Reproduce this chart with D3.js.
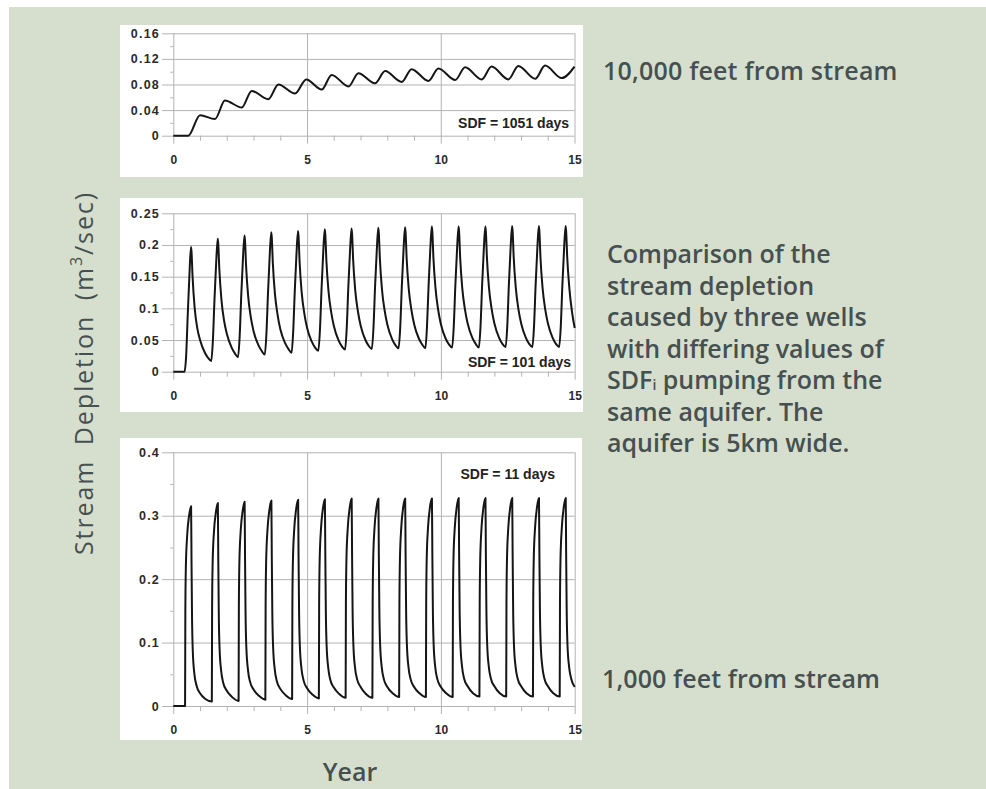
<!DOCTYPE html>
<html>
<head>
<meta charset="utf-8">
<script src="https://cdn.jsdelivr.net/npm/d3@7"></script>
<style>
  body { margin: 0; background: #fff; }
  svg { display: block; }
  .tick line { stroke: #b3b3b3; stroke-width: 1; }
  .tick text { fill: #2a2a2a; font-family: "Liberation Sans", Arial, sans-serif; font-weight: bold; }
  .note { fill: #475050; font-family: "Open Sans", "Noto Sans", sans-serif; font-size: 25px; font-weight: 600; }
</style>
</head>
<body>
<svg id="chart" width="986" height="789"></svg>
<script>
// well 10,000 ft from stream (SDF = 1051 days): turning points of the curve
var farYears     = [0, 0.56, 1.0, 1.56, 1.93, 2.56, 2.93, 3.55, 3.93, 4.55, 4.97, 5.55, 5.92, 6.55, 6.92, 7.54, 7.92, 8.54, 8.91, 9.54, 9.91, 10.54, 10.91, 11.53, 11.9, 12.53, 12.9, 13.53, 13.9, 14.52, 15];
var farDepletion = [0, 0, 0.032, 0.026, 0.055, 0.044, 0.070, 0.057, 0.080, 0.066, 0.088, 0.072, 0.095, 0.077, 0.0975, 0.082, 0.101, 0.084, 0.104, 0.0855, 0.105, 0.087, 0.107, 0.088, 0.108, 0.088, 0.109, 0.089, 0.1095, 0.090, 0.108];

// SDF = 101 days: one row per pumping year, sampled at these times into the year
var midOffsets = [0.42, 0.48, 0.54, 0.60, 0.66, 0.68, 0.72, 0.80, 0.90, 1.0, 1.18, 1.3];
var midCycles = [
  [0, 0.025, 0.09, 0.15, 0.197, 0.19, 0.15, 0.10, 0.068, 0.05, 0.03, 0.022],
  [0.017, 0.05, 0.115, 0.17, 0.210, 0.202, 0.162, 0.113, 0.080, 0.060, 0.038, 0.029],
  [0.023, 0.056, 0.121, 0.176, 0.215, 0.207, 0.167, 0.118, 0.085, 0.064, 0.042, 0.033],
  [0.027, 0.060, 0.125, 0.181, 0.220, 0.212, 0.171, 0.122, 0.089, 0.067, 0.045, 0.036],
  [0.030, 0.063, 0.128, 0.183, 0.222, 0.214, 0.173, 0.124, 0.091, 0.069, 0.047, 0.038],
  [0.033, 0.066, 0.131, 0.186, 0.225, 0.217, 0.176, 0.127, 0.094, 0.072, 0.049, 0.040],
  [0.035, 0.068, 0.133, 0.187, 0.226, 0.218, 0.177, 0.128, 0.095, 0.073, 0.050, 0.041],
  [0.036, 0.069, 0.134, 0.188, 0.227, 0.219, 0.178, 0.129, 0.096, 0.074, 0.051, 0.042],
  [0.037, 0.070, 0.135, 0.189, 0.228, 0.220, 0.179, 0.130, 0.097, 0.075, 0.052, 0.043],
  [0.037, 0.071, 0.136, 0.190, 0.229, 0.221, 0.180, 0.131, 0.097, 0.075, 0.052, 0.043],
  [0.038, 0.071, 0.136, 0.190, 0.229, 0.221, 0.180, 0.131, 0.098, 0.076, 0.053, 0.044],
  [0.038, 0.071, 0.136, 0.190, 0.229, 0.221, 0.180, 0.131, 0.098, 0.076, 0.053, 0.044],
  [0.039, 0.072, 0.137, 0.191, 0.230, 0.222, 0.181, 0.132, 0.098, 0.076, 0.053, 0.044],
  [0.039, 0.072, 0.137, 0.191, 0.230, 0.222, 0.181, 0.132, 0.098, 0.076, 0.053, 0.044],
  [0.039, 0.072, 0.137, 0.191, 0.230, 0.222, 0.181, 0.132, 0.094, 0.069]
];

// well 1,000 ft from stream (SDF = 11 days)
var nearOffsets = [0.44, 0.45, 0.47, 0.52, 0.59, 0.665, 0.68, 0.70, 0.73, 0.79, 0.87, 1.0, 1.2];
var nearCycles = [
  [0, 0.15, 0.22, 0.27, 0.30, 0.315, 0.23, 0.14, 0.085, 0.05, 0.032, 0.02, 0.011],
  [0.007, 0.155, 0.225, 0.275, 0.305, 0.320, 0.235, 0.145, 0.09, 0.055, 0.036, 0.024, 0.014],
  [0.008, 0.157, 0.227, 0.277, 0.307, 0.322, 0.237, 0.147, 0.092, 0.057, 0.038, 0.026, 0.016],
  [0.010, 0.158, 0.228, 0.278, 0.309, 0.324, 0.238, 0.148, 0.093, 0.058, 0.039, 0.027, 0.017],
  [0.011, 0.159, 0.229, 0.279, 0.310, 0.325, 0.239, 0.149, 0.094, 0.059, 0.040, 0.028, 0.018],
  [0.012, 0.160, 0.230, 0.280, 0.311, 0.326, 0.240, 0.150, 0.095, 0.060, 0.041, 0.029, 0.019],
  [0.013, 0.160, 0.231, 0.281, 0.312, 0.327, 0.241, 0.151, 0.096, 0.061, 0.042, 0.030, 0.019],
  [0.013, 0.161, 0.231, 0.281, 0.312, 0.327, 0.241, 0.151, 0.096, 0.061, 0.042, 0.030, 0.020],
  [0.014, 0.161, 0.232, 0.282, 0.313, 0.327, 0.241, 0.151, 0.096, 0.061, 0.042, 0.030, 0.020],
  [0.014, 0.161, 0.232, 0.282, 0.313, 0.327, 0.241, 0.151, 0.096, 0.061, 0.042, 0.030, 0.020],
  [0.014, 0.162, 0.232, 0.282, 0.313, 0.328, 0.242, 0.152, 0.097, 0.062, 0.043, 0.031, 0.020],
  [0.015, 0.162, 0.232, 0.282, 0.313, 0.328, 0.242, 0.152, 0.097, 0.062, 0.043, 0.031, 0.020],
  [0.015, 0.162, 0.232, 0.282, 0.313, 0.328, 0.242, 0.152, 0.097, 0.062, 0.043, 0.031, 0.020],
  [0.015, 0.162, 0.232, 0.282, 0.313, 0.328, 0.242, 0.152, 0.097, 0.062, 0.043, 0.031, 0.020],
  [0.015, 0.162, 0.232, 0.282, 0.313, 0.328, 0.242, 0.152, 0.097, 0.062, 0.043, 0.030]
];

var majorYears = [0, 5, 10, 15];
var minorYears = [1, 2, 3, 4, 6, 7, 8, 9, 11, 12, 13, 14];
var farTicks = [0, 0.04, 0.08, 0.12, 0.16], farMinor = [0.02, 0.06, 0.1, 0.14];
var midTicks = [0, 0.05, 0.1, 0.15, 0.2, 0.25], midMinor = [0.025, 0.075, 0.125, 0.175, 0.225];
var nearTicks = [0, 0.1, 0.2, 0.3, 0.4], nearMinor = [0.05, 0.15, 0.25, 0.35];
var sdfLabels = ["SDF = 1051 days", "SDF = 101 days", "SDF = 11 days"];

var topNote = "10,000 feet from stream";
var bottomNote = "1,000 feet from stream";
var caption = ["Comparison of the", "stream depletion", "caused by three wells", "with differing values of", "SDF|i| pumping from the", "same aquifer. The", "aquifer is 5km wide."];

function cyclePoints(offsets, cycles) {
  var pts = [[0, 0]];
  cycles.forEach(function(row, k) {
    row.forEach(function(v, j) { pts.push([k + offsets[j], v]); });
  });
  return pts;
}

var panels = [
  { box: [120, 25, 463, 152], xr: [173.3, 574.5], yr: [135.7, 33.3], max: 0.16, ticks: farTicks, minor: farMinor,
    pts: d3.zip(farYears, farDepletion), label: sdfLabels[0], lx: 569, ly: 128 },
  { box: [120, 198, 463, 214], xr: [173.3, 574.7], yr: [371.7, 213.3], max: 0.25, ticks: midTicks, minor: midMinor,
    pts: cyclePoints(midOffsets, midCycles), label: sdfLabels[1], lx: 571, ly: 367 },
  { box: [120, 438, 462, 302], xr: [173.3, 574.7], yr: [706, 452.3], max: 0.4, ticks: nearTicks, minor: nearMinor,
    pts: cyclePoints(nearOffsets, nearCycles), label: sdfLabels[2], lx: 555, ly: 478.5 }
];

var svg = d3.select("#chart");
svg.append("rect").attr("x", 9).attr("y", 7).attr("width", 977).attr("height", 782).attr("fill", "#d6dfcd");

var fmt = function(d) { return d === 0 ? "0" : String(d); };

panels.forEach(function(p) {
  var g = svg.append("g");
  g.append("rect")
    .attr("x", p.box[0]).attr("y", p.box[1]).attr("width", p.box[2]).attr("height", p.box[3])
    .attr("fill", "#fff");

  var x = d3.scaleLinear().domain([0, 15]).range(p.xr);
  var y = d3.scaleLinear().domain([0, p.max]).range(p.yr);

  // horizontal grid lines with value labels
  var gy = g.append("g").attr("transform", "translate(162,0)")
    .call(d3.axisLeft(y).tickValues(p.ticks).tickSize(-(p.xr[1] - 162)).tickPadding(2).tickFormat(fmt));
  gy.select(".domain").remove();
  gy.selectAll("text").style("font-size", "12.5px").style("letter-spacing", "1.2px");

  // vertical grid lines every 5 years with year labels
  var gx = g.append("g").attr("transform", "translate(0," + p.yr[1] + ")")
    .call(d3.axisBottom(x).tickValues(majorYears).tickSize(p.yr[0] - p.yr[1] + 8).tickPadding(11.5));
  gx.select(".domain").remove();
  gx.selectAll("text").style("font-size", "12px");

  // minor ticks
  var mx = g.append("g").attr("transform", "translate(0," + p.yr[0] + ")")
    .call(d3.axisBottom(x).tickValues(minorYears).tickSize(5).tickFormat(""));
  mx.select(".domain").remove();
  var my = g.append("g").attr("transform", "translate(" + p.xr[0] + ",0)")
    .call(d3.axisLeft(y).tickValues(p.minor).tickSize(3).tickFormat(""));
  my.select(".domain").remove();

  g.append("path")
    .datum(p.pts)
    .attr("fill", "none")
    .attr("stroke", "#151515")
    .attr("stroke-width", 2)
    .attr("stroke-linejoin", "round")
    .attr("d", d3.line()
      .x(function(d) { return x(d[0]); })
      .y(function(d) { return y(d[1]); })
      .curve(d3.curveMonotoneX));

  g.append("text")
    .attr("x", p.lx).attr("y", p.ly)
    .attr("text-anchor", "end")
    .style("font-family", "'Liberation Sans', Arial, sans-serif")
    .style("font-weight", "bold")
    .style("font-size", "14px")
    .style("fill", "#222")
    .text(p.label);
});

// axis titles
var yt = svg.append("text").attr("class", "note")
  .attr("transform", "translate(93,373) rotate(-90)")
  .attr("text-anchor", "middle")
  .style("font-weight", "500")
  .style("letter-spacing", "1.9px")
  .style("word-spacing", "6px");
yt.append("tspan").text("Stream Depletion (m");
yt.append("tspan").attr("baseline-shift", "super").style("font-size", "16px").text("3");
yt.append("tspan").text("/sec)");

svg.append("text").attr("class", "note")
  .attr("x", 350).attr("y", 781).attr("text-anchor", "middle").text("Year");

// notes on the right
svg.append("text").attr("class", "note").attr("x", 603).attr("y", 80)
  .style("letter-spacing", "0.2px").text(topNote);
svg.append("text").attr("class", "note").attr("x", 602).attr("y", 688)
  .style("letter-spacing", "0.1px").text(bottomNote);

var cap = svg.append("g");
caption.forEach(function(line, i) {
  var t = cap.append("text").attr("class", "note")
    .attr("x", 607).attr("y", 263 + i * 31.5);
  var parts = line.split("|");
  t.append("tspan").text(parts[0]);
  if (parts.length > 1) {
    t.append("tspan").attr("baseline-shift", "-1px").style("font-size", "14px").text(parts[1]);
    t.append("tspan").text(parts[2]);
  }
});
</script>
</body>
</html>
